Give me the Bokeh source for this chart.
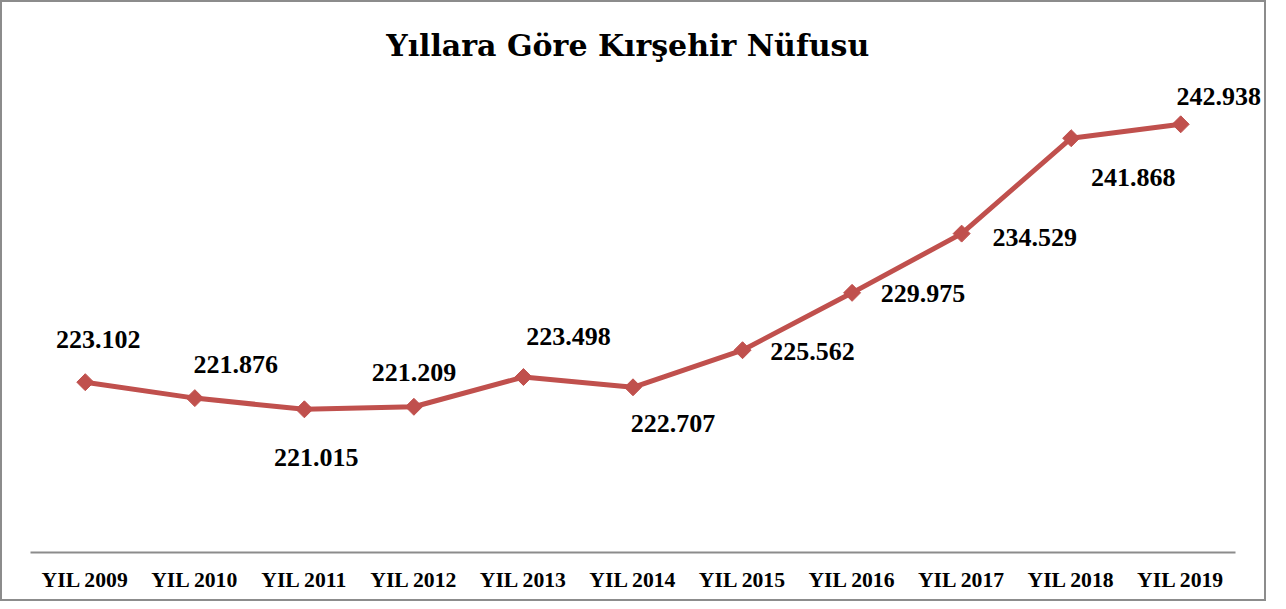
import math
from bokeh.plotting import figure
from bokeh.models import ColumnDataSource, Range1d, LabelSet, FixedTicker
from bokeh.core.properties import value
from bokeh.embed import file_html
from bokeh.resources import INLINE

years = ["YIL 2009", "YIL 2010", "YIL 2011", "YIL 2012", "YIL 2013", "YIL 2014",
         "YIL 2015", "YIL 2016", "YIL 2017", "YIL 2018", "YIL 2019"]
population = [223102, 221876, 221015, 221209, 223498, 222707,
              225562, 229975, 234529, 241868, 242938]
labels = ["223.102", "221.876", "221.015", "221.209", "223.498", "222.707",
          "225.562", "229.975", "234.529", "241.868", "242.938"]
title_text = "Yıllara  Göre Kırşehir Nüfusu"

# label placement (screen px offsets from each point; dy positive = downwards)
label_dx = [13, 41, 12, 0, 45, 40, 70, 71, 73, 62, 38]
label_dy = [-43, -34, 48, -34, -41, 36, 1, 1, 4, 39, -28]

FONT = "Liberation Serif"
TITLE_FONT = "DejaVu Serif"
RED = "#C0504D"

xs = list(range(len(years)))
src = ColumnDataSource(dict(x=xs, y=population, t=labels, dx=label_dx,
                            up=[-d for d in label_dy]))

n = len(years)
# extra room on the right (in category units) so the last label is not clipped
extra = 31 / 109.5
p = figure(x_range=Range1d(-0.5, n - 0.5 + extra), y_range=Range1d(210000, 250000),
           width=1266, height=601, output_backend="svg", toolbar_location=None,
           min_border_left=28, min_border_right=2, min_border_top=30, min_border_bottom=51,
           styles={"border": "2px solid #8c8c8c", "box-sizing": "border-box"})
p.outline_line_color = None
p.xgrid.visible = False
p.ygrid.visible = False
p.yaxis.visible = False
p.background_fill_color = "white"
p.border_fill_color = "white"

ax = p.xaxis[0]
ax.bounds = (-0.5, n - 0.5)
ax.ticker = FixedTicker(ticks=xs)
ax.major_label_overrides = {i: y for i, y in zip(xs, years)}
ax.axis_line_color = "#8c8c8c"
ax.axis_line_width = 2
ax.major_tick_line_color = None
ax.minor_tick_line_color = None
ax.major_label_text_font = FONT
ax.major_label_text_font_style = "bold"
ax.major_label_text_font_size = "21.7px"
ax.major_label_text_color = "black"
ax.major_label_standoff = 9

p.line("x", "y", source=src, line_color=RED, line_width=5)
p.scatter("x", "y", source=src, marker="square", angle=math.pi / 4, size=12,
          fill_color=RED, line_color=RED)

p.add_layout(LabelSet(x="x", y="y", text="t", source=src, x_offset="dx", y_offset="up",
                      text_font=value(FONT), text_font_style="bold", text_font_size="26px",
                      text_align="center", text_baseline="middle", text_color="black"))

tsrc = ColumnDataSource(dict(x=[(n - 1) / 2], y=[249000], t=[title_text]))
p.text("x", "y", text="t", source=tsrc, text_font=value(TITLE_FONT), text_font_style="bold",
       text_font_size="30px", text_align="center", text_baseline="middle", text_color="black")

open("out.html", "w").write(file_html(p, INLINE))
